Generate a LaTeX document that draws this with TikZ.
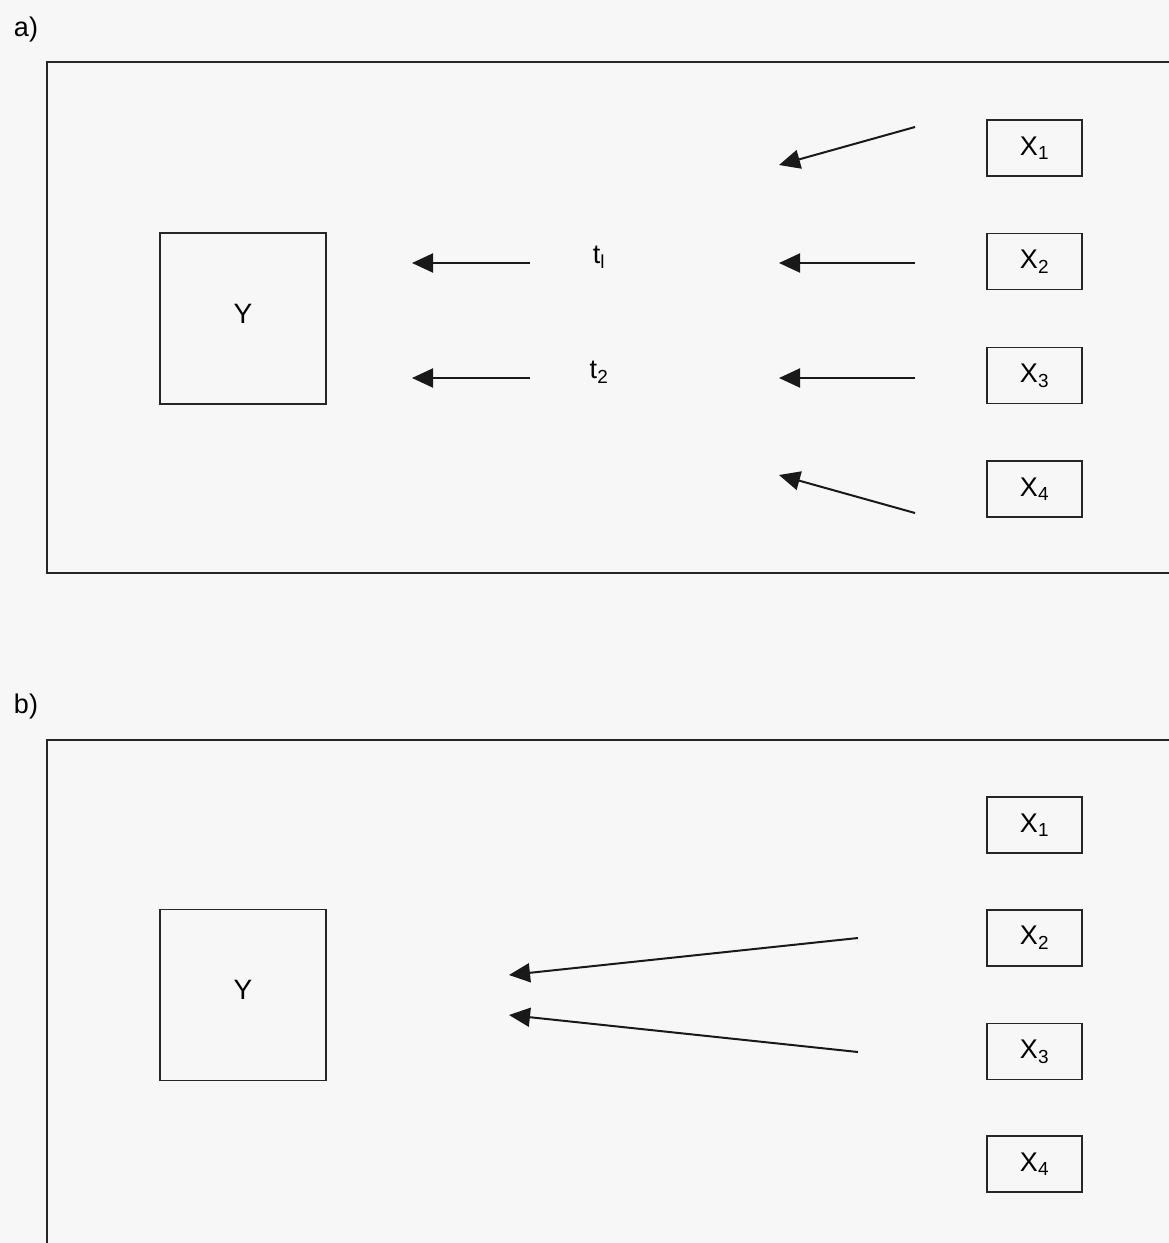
\documentclass[tikz,border=0pt]{standalone}
\usepackage{fontspec}
\setmainfont{Liberation Sans}
\usetikzlibrary{arrows.meta}
\begin{document}
\begin{tikzpicture}[x=1pt,y=-1pt,
  frame/.style={draw=black!85,line width=2pt},
  ybox/.style={draw=black!85,line width=1.6pt,minimum width=166pt,minimum height=171pt,inner sep=0pt,font=\fontsize{28}{32}\selectfont},
  xbox/.style={draw=black!85,line width=1.6pt,minimum width=95pt,minimum height=56pt,inner sep=0pt,font=\fontsize{27}{31}\selectfont},
  lbl/.style={font=\fontsize{27}{31}\selectfont,inner sep=0pt},
  arr/.style={line width=2pt,draw=black!90,-{Triangle[length=21pt,width=19pt]}}]
\useasboundingbox[fill=black!3] (0,0) rectangle (1169,1243);

% ---------- panel a ----------
\node[lbl] (la) at (26,30) {a)};
\draw[frame] (1180,62) -- (47,62) -- (47,573) -- (1180,573);
\node[ybox] (Ya) at (243,318.5) {\raisebox{10pt}{Y}};
\node[xbox] (Xa1) at (1034.5,148) {\raisebox{3pt}{X\textsubscript{1}}};
\node[xbox] (Xa2) at (1034.5,261.5) {\raisebox{3pt}{X\textsubscript{2}}};
\node[xbox] (Xa3) at (1034.5,375.5) {\raisebox{3pt}{X\textsubscript{3}}};
\node[xbox] (Xa4) at (1034.5,489) {\raisebox{3pt}{X\textsubscript{4}}};
\node[lbl] (t1) at (599,257) {t\textsubscript{l}};
\node[lbl] (t2) at (599,372) {t\textsubscript{2}};

\coordinate (a1s) at (915,127); \coordinate (a1e) at (779,165);
\coordinate (a2s) at (915,263); \coordinate (a2e) at (779,263);
\coordinate (a3s) at (915,378); \coordinate (a3e) at (779,378);
\coordinate (a4s) at (915,513); \coordinate (a4e) at (779,475);
\coordinate (b1s) at (530,263); \coordinate (b1e) at (412,263);
\coordinate (b2s) at (530,378); \coordinate (b2e) at (412,378);
\draw[arr] (a1s) -- (a1e);
\draw[arr] (a2s) -- (a2e);
\draw[arr] (a3s) -- (a3e);
\draw[arr] (a4s) -- (a4e);
\draw[arr] (b1s) -- (b1e);
\draw[arr] (b2s) -- (b2e);

% ---------- panel b ----------
\node[lbl] (lb) at (26,707) {b)};
\draw[frame] (1180,740) -- (47,740) -- (47,1260);
\node[ybox] (Yb) at (243,995) {\raisebox{10pt}{Y}};
\node[xbox] (Xb1) at (1034.5,825) {\raisebox{3pt}{X\textsubscript{1}}};
\node[xbox] (Xb2) at (1034.5,938) {\raisebox{3pt}{X\textsubscript{2}}};
\node[xbox] (Xb3) at (1034.5,1051.5) {\raisebox{3pt}{X\textsubscript{3}}};
\node[xbox] (Xb4) at (1034.5,1164) {\raisebox{3pt}{X\textsubscript{4}}};
\coordinate (c1s) at (858,938); \coordinate (c1e) at (509,975);
\coordinate (c2s) at (858,1052); \coordinate (c2e) at (509,1015);
\draw[arr] (c1s) -- (c1e);
\draw[arr] (c2s) -- (c2e);
\end{tikzpicture}
\end{document}
